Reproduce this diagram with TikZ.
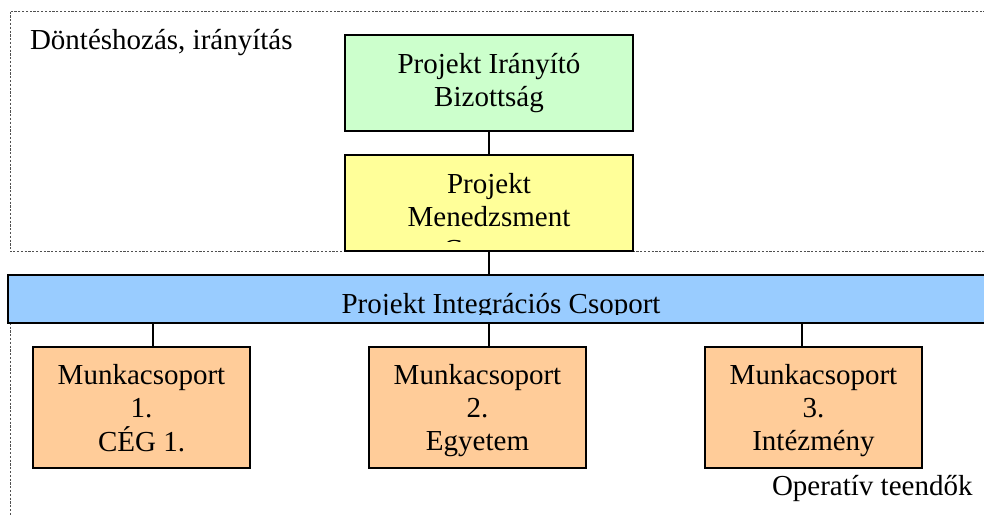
\documentclass[tikz,border=0pt]{standalone}
\usepackage{fontspec}
\setmainfont{Liberation Serif}
\definecolor{gfill}{RGB}{204,255,204}
\definecolor{yfill}{RGB}{255,255,153}
\definecolor{bfill}{RGB}{153,204,255}
\definecolor{ofill}{RGB}{255,204,153}
\definecolor{dotgray}{RGB}{80,80,80}
\begin{document}
\begin{tikzpicture}[x=1pt,y=-1pt,
  every node/.style={inner sep=0pt, outer sep=0pt},
  boxshape/.style={draw=black, line width=1.4pt, rectangle},
  txt/.style={font=\fontsize{29}{33}\selectfont, anchor=base},
  conn/.style={draw=black, line width=1.4pt},
  zone/.style={draw=dotgray, line width=0.9pt, dash pattern=on 2.2pt off 1.6pt}]
\useasboundingbox (0,0) rectangle (984,514);
% zones
\draw[zone] (10,11.5) rectangle (995,251.5);
\draw[zone] (10,300) rectangle (995,530);
% green box
\node[boxshape, fill=gfill, minimum width=288pt, minimum height=96pt] (pib) at (489,83) {};
\node[txt] (pibt) at (489,73) {\begin{tabular}[t]{@{}c@{}}Projekt Irányító\\Bizottság\end{tabular}};
% yellow box
\node[boxshape, fill=yfill, minimum width=288pt, minimum height=96pt] (pmcs) at (489,203) {};
\begin{scope}
\clip (346,156) rectangle (632,241.5);
\node[txt] (pmcst) at (489,193) {\begin{tabular}[t]{@{}c@{}}Projekt\\Menedzsment\\Csoport\end{tabular}};
\end{scope}
% blue bar
\node[boxshape, fill=bfill, minimum width=1000pt, minimum height=48pt, anchor=north west] (pics) at (8,275) {};
\begin{scope}
\clip (9,276) rectangle (984,314.2);
\node[txt] (picst) at (501,313) {Projekt Integrációs Csoport};
\end{scope}
% orange boxes
\node[boxshape, fill=ofill, minimum width=217pt, minimum height=121pt] (m1) at (141.5,407.5) {};
\node[boxshape, fill=ofill, minimum width=217pt, minimum height=121pt] (m2) at (477.5,407.5) {};
\node[boxshape, fill=ofill, minimum width=217pt, minimum height=121pt] (m3) at (813.5,407.5) {};
\node[txt] (m1t) at (141.5,384) {\begin{tabular}[t]{@{}c@{}}Munkacsoport\\1.\\CÉG 1.\end{tabular}};
\node[txt] (m2t) at (477.5,384) {\begin{tabular}[t]{@{}c@{}}Munkacsoport\\2.\\Egyetem\end{tabular}};
\node[txt] (m3t) at (813.5,384) {\begin{tabular}[t]{@{}c@{}}Munkacsoport\\3.\\Intézmény\end{tabular}};
% connectors
\draw[conn] (pib.south) -- (pmcs.north);
\draw[conn] (pmcs.south) -- (pmcs.south |- pics.north);
\draw[conn] (pics.south -| 153,0) -- (m1.north -| 153,0);
\draw[conn] (pics.south -| 489,0) -- (m2.north -| 489,0);
\draw[conn] (pics.south -| 802,0) -- (m3.north -| 802,0);
% zone labels
\node[txt, anchor=base west] (dl) at (30,49) {Döntéshozás, irányítás};
\node[txt, anchor=base west] (ol) at (772,495) {Operatív teendők};
\end{tikzpicture}
\end{document}
